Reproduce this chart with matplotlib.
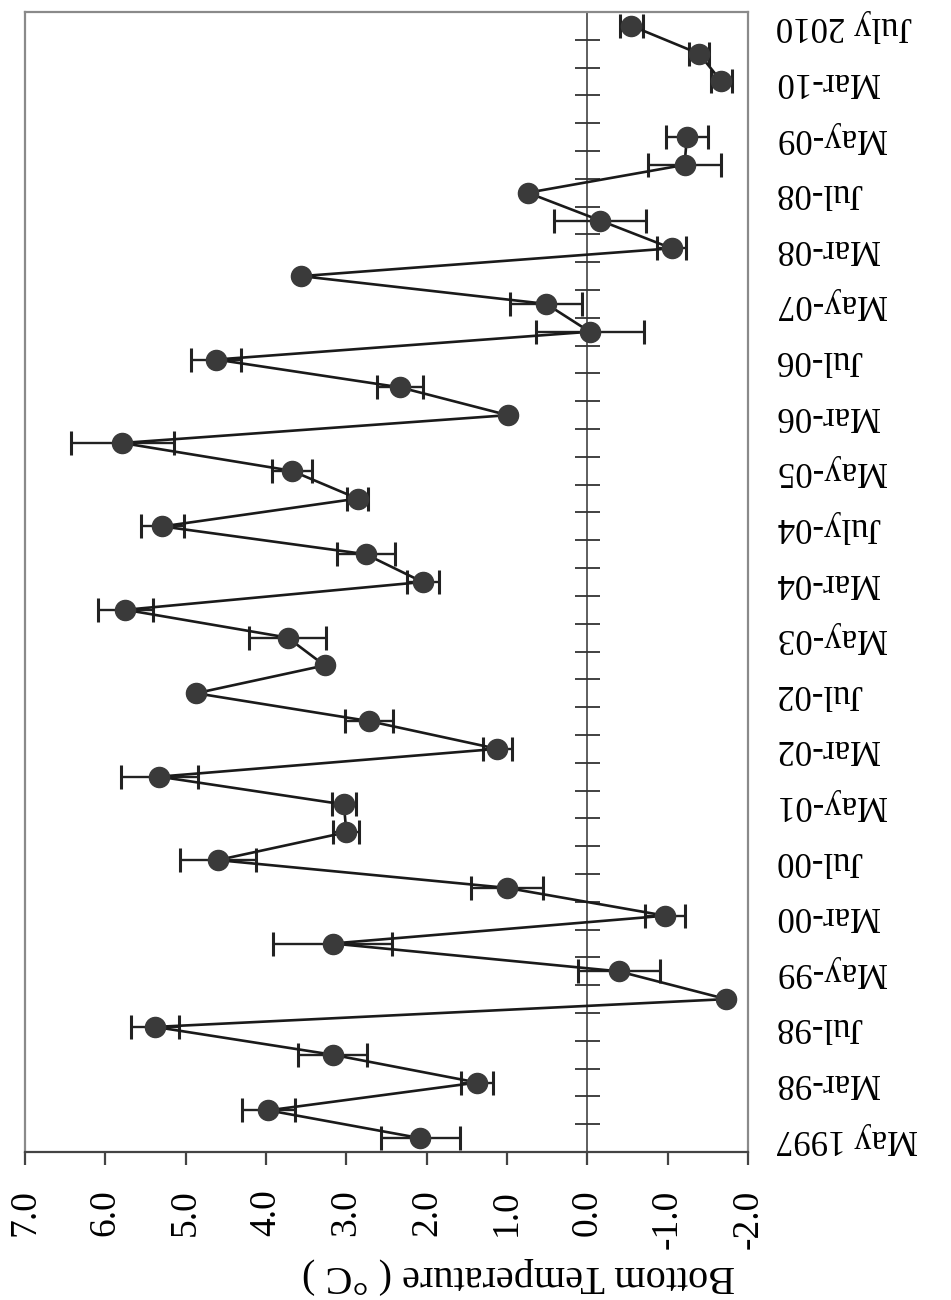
import numpy as np
import matplotlib
matplotlib.use("Agg")
import matplotlib.pyplot as plt

plt.rcParams["font.family"] = ["Liberation Serif", "DejaVu Serif"]

# survey months, bottom to top
surveys = ["May 1997", "Jul-97", "Mar-98", "May-98", "Jul-98", "Mar-99", "May-99",
           "Jul-99", "Mar-00", "May-00", "Jul-00", "Mar-01", "May-01", "Jul-01",
           "Mar-02", "May-02", "Jul-02", "Mar-03", "May-03", "Jul-03", "Mar-04",
           "May-04", "July-04", "Mar-05", "May-05", "Jul-05", "Mar-06", "May-06",
           "Jul-06", "Mar-07", "May-07", "Jul-07", "Mar-08", "May-08", "Jul-08",
           "Mar-09", "May-09", "Jul-09", "Mar-10", "May-10", "July 2010"]

# mean bottom temperature (C) and error (nan = no bar / no sample)
temp = [2.08, 3.97, 1.37, 3.17, 5.38, -1.73, -0.39, 3.17, -0.97, 1.00,
        4.60, 3.00, 3.03, 5.33, 1.12, 2.72, 4.87, 3.27, 3.73, 5.75,
        2.05, 2.76, 5.29, 2.86, 3.68, 5.79, 0.99, 2.33, 4.62, -0.03,
        0.51, 3.56, -1.05, -0.16, 0.74, -1.21, -1.24, np.nan, -1.67, -1.39,
        -0.55]
err = [0.49, 0.33, 0.20, 0.43, 0.30, np.nan, 0.51, 0.74, 0.25, 0.45,
       0.47, 0.16, 0.15, 0.48, 0.18, 0.30, np.nan, np.nan, 0.48, 0.34,
       0.20, 0.36, 0.27, 0.13, 0.25, 0.64, np.nan, 0.29, 0.31, 0.67,
       0.45, np.nan, 0.18, 0.57, np.nan, 0.46, 0.26, np.nan, 0.13, 0.13,
       0.14]

temp_ticks = [7, 6, 5, 4, 3, 2, 1, 0, -1, -2]
x_left, x_right = 7, -2

pos = np.arange(len(surveys))

fig = plt.figure(figsize=(9.51, 13), dpi=100)
ax = fig.add_axes([0.0263, 0.1138, 0.7602, 0.877])

ax.errorbar(temp, pos, xerr=err, fmt="none", ecolor="#222222",
            elinewidth=1.7, capsize=8.5, capthick=2.2, zorder=2)
ax.plot(temp, pos, "-o", color="#1a1a1a", lw=1.9, ms=14.5,
        mfc="#3a3a3a", mec="#3a3a3a", zorder=3)

ax.set_xlim(x_left, x_right)
ax.set_ylim(-0.5, len(surveys) - 0.5)

# temperature axis (upside down picture)
ax.set_xticks(temp_ticks)
ax.set_xticklabels([f"{t:.1f}" for t in temp_ticks], rotation=90,
                   fontsize=27, va="top", ha="center")
ax.tick_params(axis="x", direction="out", length=9, width=1.6,
               color="#444444", pad=18)
ax.set_xlabel("Bottom Temperature ( °C )", fontsize=29, rotation=180,
              ha="center", va="center")
ax.xaxis.set_label_coords(0.682, -0.108)

# survey labels on the right, every other one
ax.yaxis.tick_right()
ax.set_yticks(pos[::2])
ax.set_yticklabels(surveys[::2], rotation=180, fontsize=25,
                   ha="left", va="center")
ax.tick_params(axis="y", length=0, pad=20)

for side in ["top", "right", "left"]:
    ax.spines[side].set_color("#8a8a8a")
    ax.spines[side].set_linewidth(1.6)
ax.spines["bottom"].set_color("#444444")
ax.spines["bottom"].set_linewidth(1.6)

# category axis crossing at 0 degrees
zero_loc = (x_left - 0) / (x_left - x_right)
sec = ax.secondary_yaxis(zero_loc)
sec.set_yticks(np.arange(-0.5, len(surveys), 1))
sec.set_yticklabels([])
sec.tick_params(direction="inout", length=18, width=1.3, color="#333333")
for s in sec.spines.values():
    s.set_color("#333333")
    s.set_linewidth(1.1)

fig.savefig("out.png", dpi=100)
